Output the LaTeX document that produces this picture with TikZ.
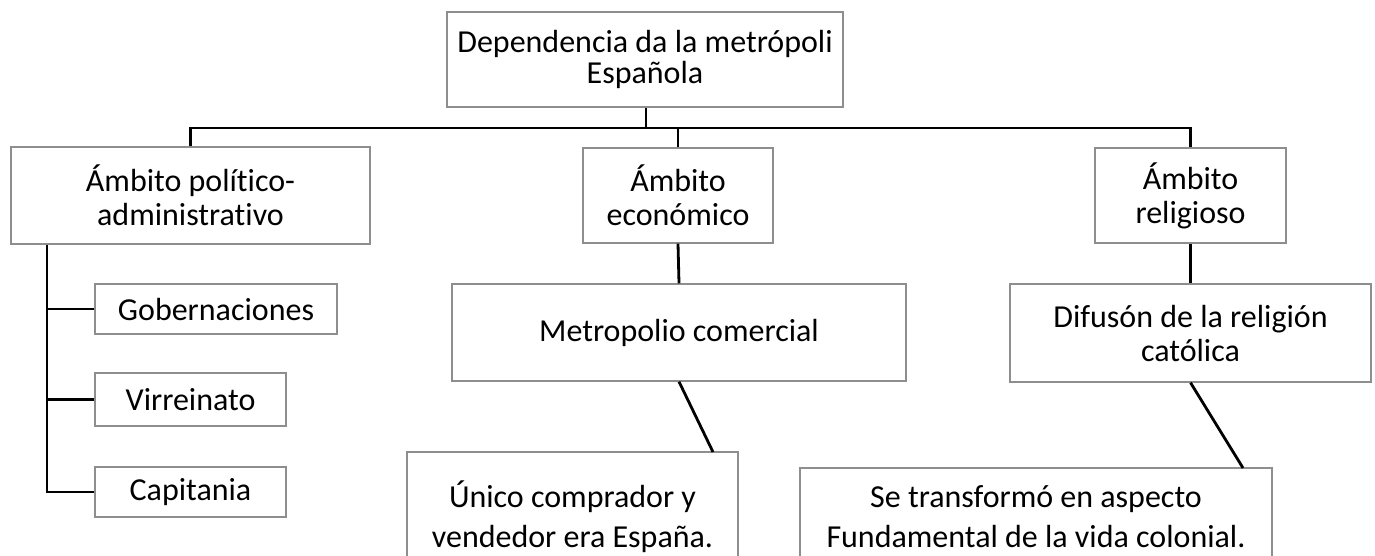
\documentclass[tikz,border=0pt]{standalone}
\usepackage{fontspec}
\setmainfont{Carlito}[Ligatures={NoCommon,NoRare,NoContextual},Contextuals={NoAlternate}]
\newcommand\nolig{\kern0pt{}}
\begin{document}
\begin{tikzpicture}[x=1pt,y=-1pt,
  box/.style={draw=boxgray,line width=1.3pt,inner sep=0pt,align=center,
    font=\fontsize{32}{34}\selectfont},
  link/.style={draw=black,line width=2.8pt}]
\definecolor{boxgray}{HTML}{8E8E8E}
\useasboundingbox (0,0) rectangle (1375,555);
\clip (0,0) rectangle (1375,555);
% top
\node[box,minimum width=396pt,minimum height=95pt,font=\fontsize{32}{31}\selectfont] (top) at (645,59.5)
  {Dependencia da la metrópoli\\Española};
% level 1
\node[box,minimum width=359pt,minimum height=97pt] (pol) at (190.5,195.5) {Ámbito polít\nolig ico-\\administrat\nolig ivo};
\node[box,minimum width=190pt,minimum height=95pt] (eco) at (678,195.5) {Ámbito\\económico};
\node[box,minimum width=191pt,minimum height=95pt] (rel) at (1190.5,195.5) {Ámbito\\religioso};
% left subitems
\node[box,minimum width=242pt,minimum height=50pt] (gob) at (216,309) {Gobernaciones};
\node[box,minimum width=191pt,minimum height=53pt] (vir) at (190.5,399.5) {Virreinato};
\node[box,minimum width=191pt,minimum height=50pt] (cap) at (190.5,492) {Capitania};
% middle
\node[box,minimum width=454pt,minimum height=97pt] (met) at (679,332.5) {Metropolio comercial};
\node[box,minimum width=331pt,minimum height=130pt,font=\fontsize{32}{40}\selectfont] (uni) at (572.5,517)
  {Único comprador y\\vendedor era España.};
% right
\node[box,minimum width=361pt,minimum height=98pt] (dif) at (1190.5,333) {Difusón de la religión\\católica};
\node[box,minimum width=472pt,minimum height=98pt,font=\fontsize{32}{40}\selectfont] (se) at (1036,517)
  {Se transformó en aspecto\\Fundamental de la vida colonial.};
% coordinates
\coordinate (bus) at (646,128);
\coordinate (tx) at (47,0);
\coordinate (uend) at (713,452);
\coordinate (send) at (1243,468);
% connectors
\draw[link] (top.south -| bus) -- (bus);
\draw[link] (pol.north) |- (bus) -| (rel.north);
\draw[link] (eco.north) -- (eco.north |- bus);
\draw[link] (eco.south) -- (met.north);
\draw[link] (rel.south) -- (dif.north);
\draw[link] (met.south) -- (uend);
\draw[link] (dif.south) -- (send);
\draw[link] (pol.south -| tx) |- (cap.west);
\draw[link] (gob.west -| tx) -- (gob.west);
\draw[link] (vir.west -| tx) -- (vir.west);
\end{tikzpicture}
\end{document}
